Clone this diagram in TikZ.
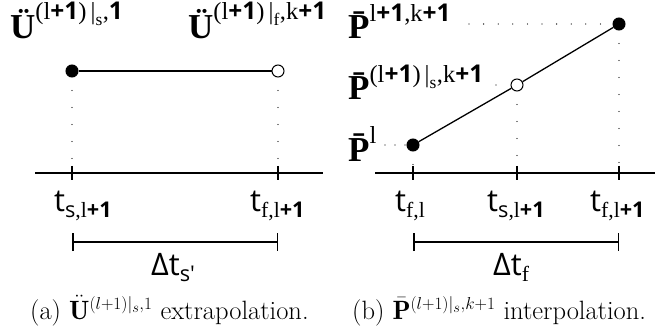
\documentclass[tikz,border=0pt]{standalone}
\usepackage{amsmath}
\usepackage{fontspec}
\usepackage{tikz}
\usetikzlibrary{arrows.meta}
\newfontfamily\labfont{Open Sans}
\newfontfamily\serfont{Liberation Serif}
\newcommand{\snr}[1]{\text{\labfont #1}}
\newcommand{\snb}[1]{\text{\labfont\bfseries #1}}
\newcommand{\srf}[1]{\text{\serfont #1}}

\begin{document}
\begin{tikzpicture}[x=1pt,y=-1pt,
  dot/.style={circle,draw,fill=black,line width=1pt,inner sep=0pt,minimum size=12pt},
  hole/.style={dot,fill=white},
  conn/.style={line width=1.3pt},
  axisline/.style={line width=1.5pt},
  guide/.style={line width=1.3pt,dash pattern=on 0pt off 17pt,dash phase=4pt,line cap=round},
  guideh/.style={line width=1.3pt,dash pattern=on 0pt off #1,line cap=round},
  guideh/.default=14.6pt,
  span/.style={axisline,{Bar[width=18pt]}-{Bar[width=18pt]}},
  lab/.style={inner sep=0pt,font=\serfont\fontsize{35}{37}\selectfont},
  tlab/.style={inner sep=0pt,font=\labfont\fontsize{31}{33}\selectfont},
  captext/.style={inner sep=0pt,font=\fontsize{26.5}{28}\selectfont}]
\useasboundingbox (0,0) rectangle (655,331);

% (a) extrapolation
\node[dot] (us) at (72,71) {};
\node[hole] (uf) at (278,71) {};
\draw[conn] (us) -- (uf);
\coordinate (la0) at (35,173);
\coordinate (la1) at (323,173);
\draw[axisline] (la0) -- (la1);
\coordinate (ts) at (72,173);
\coordinate (tf) at (278,173);
\foreach \t in {ts,tf}
  \draw[axisline] (\t) ++(0,-7) -- ++(0,14);
\draw[guide] (us) -- (ts);
\draw[guide] (uf) -- (tf);
\node[lab, anchor=base west] (ulab1) at (10,39)
  {$\srf{\bfseries Ü}^{\srf{(l}\snb{+1}\srf{)\,|}_{\srf{s}}\srf{,}\snb{1}}$};
\node[lab, anchor=base west] (ulab2) at (188,39)
  {$\srf{\bfseries Ü}^{\srf{(l}\snb{+1}\srf{)\,|}_{\srf{f}}\srf{,k}\snb{+1}}$};
\node[tlab, anchor=base west] (tslab) at (54,211)
  {t$_{\snr{s}\srf{,l}\snb{+1}}$};
\node[tlab, anchor=base west] (tflab) at (250,211)
  {t$_{\srf{f,l}\snb{+1}}$};
\coordinate (ba) at (72,242);
\coordinate (bb) at (278,242);
\draw[span] (ba) -- (bb);
\node[tlab, anchor=base west] (dts) at (151,275) {Δt$_{\snr{s'}}$};
\node[captext, anchor=base west] (capa) at (30,319)
  {(a) $\ddot{\mathbf{U}}^{(l+1)|_s,1}$ extrapolation.};

% (b) interpolation
\node[dot] (p1) at (413,145) {};
\node[hole] (p2) at (517,85) {};
\node[dot] (p3) at (619,24) {};
\draw[conn] (p1) -- (p2) -- (p3);
\coordinate (ra0) at (375,173);
\coordinate (ra1) at (655,173);
\draw[axisline] (ra0) -- (ra1);
\coordinate (rt1) at (413,173);
\coordinate (rt2) at (517,173);
\coordinate (rt3) at (619,173);
\foreach \t in {rt1,rt2,rt3}
  \draw[axisline] (\t) ++(0,-7) -- ++(0,14);
\draw[guide] (p1) -- (rt1);
\draw[guide] (p2) -- (rt2);
\draw[guide] (p3) -- (rt3);
\node[lab, anchor=base west] (plab3) at (348,39)
  {$\srf{\bfseries \={P}}^{\srf{l}\snb{+1}\srf{,k}\snb{+1}}$};
\node[lab, anchor=base west] (plab2) at (348,100)
  {$\srf{\bfseries \={P}}^{\srf{(l}\snb{+1}\srf{)\,|}_{\srf{s}}\srf{,k}\snb{+1}}$};
\node[lab, anchor=base west] (plab1) at (348,161)
  {$\srf{\bfseries \={P}}^{\srf{l}}$};
\draw[guideh] (469,24) -- (p3);
\draw[guideh] (p2 -| plab2.east) ++(12,0) -- (p2);
\draw[guideh=10pt] (p1 -| plab1.east) ++(8,0) -- (p1);
\node[tlab, anchor=base west] (tfl) at (395,211)
  {t$_{\srf{f,l}}$};
\node[tlab, anchor=base west] (tsl) at (487,211)
  {t$_{\snr{s}\srf{,l}\snb{+1}}$};
\node[tlab, anchor=base west] (tfl1) at (590,211)
  {t$_{\srf{f,l}\snb{+1}}$};
\coordinate (bc) at (413,242);
\coordinate (bd) at (619,242);
\draw[span] (bc) -- (bd);
\node[tlab, anchor=base west] (dtf) at (493,275) {Δt$_{\srf{f}}$};
\node[captext, anchor=base west] (capb) at (352,319)
  {(b) $\bar{\mathbf{P}}^{(l+1)|_s,k+1}$ interpolation.};
\end{tikzpicture}
\end{document}
